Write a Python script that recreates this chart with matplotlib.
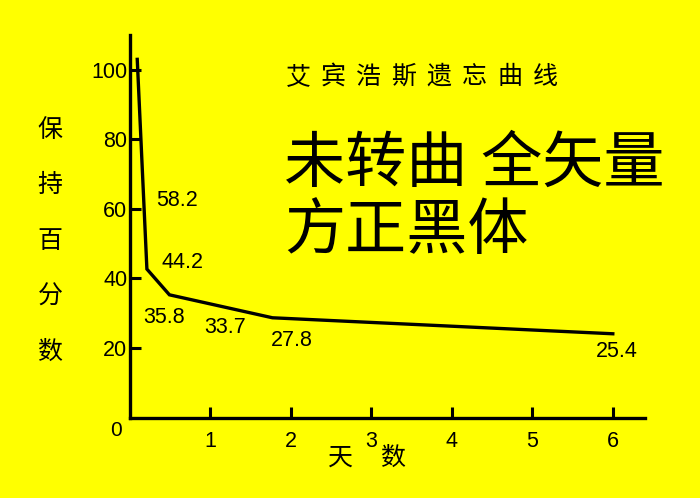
import matplotlib.pyplot as plt

plt.rcParams['font.family'] = ['Liberation Sans', 'Noto Sans CJK SC', 'DejaVu Sans']

# curve as drawn (days, retention %)
days = [0.09, 0.21, 0.49, 1.77, 6.0]
retention = [103, 42.7, 35.3, 28.7, 24.1]

# value labels and where they sit
labels = ['58.2', '44.2', '35.8', '33.7', '27.8', '25.4']
label_x = [0.59, 0.65, 0.42, 1.18, 2.01, 6.05]
label_y = [62.4, 44.5, 28.7, 25.8, 22.3, 18.9]

x_ticks = [1, 2, 3, 4, 5, 6]
y_ticks = [20, 40, 60, 80, 100]

title = '艾宾浩斯遗忘曲线'
big_line1 = '未转曲 全矢量'
big_line2 = '方正黑体'
ylabel = '保持百分数'
xlabel = '天数'

bg = '#ffff00'
cjk = ['Noto Sans CJK SC', 'DejaVu Sans']

fig = plt.figure(figsize=(7, 4.98), dpi=100, facecolor=bg)
ax = fig.add_axes([130 / 700, 80.4 / 498, 515 / 700, 382.6 / 498])
ax.set_facecolor(bg)

ax.plot(days, retention, color='black', lw=2.4, solid_joinstyle='miter', clip_on=False)

for t, x, y in zip(labels, label_x, label_y):
    ax.text(x, y, t, ha='center', va='center', fontsize=15.5)

ax.set_xlim(0, 6.4)
ax.set_ylim(0, 110)
ax.set_xticks(x_ticks)
ax.set_yticks(y_ticks)
ax.tick_params(direction='in', length=8, width=2.2, labelsize=15.5, pad=2)
ax.tick_params(axis='x', pad=10)
for s in ['top', 'right']:
    ax.spines[s].set_visible(False)
for s in ['left', 'bottom']:
    ax.spines[s].set_linewidth(2.4)

fig.text(116 / 700, 1 - 430 / 498, '0', ha='center', va='center', fontsize=15)

# spaced title, one character at a time
for i, ch in enumerate(title):
    fig.text((298 + i * 35.3) / 700, 1 - 77 / 498, ch, ha='center', va='center',
             fontsize=18, family=cjk)

fig.text(284 / 700, 1 - 165 / 498, big_line1, ha='left', va='center',
         fontsize=44, family=cjk)
fig.text(284 / 700, 1 - 232 / 498, big_line2, ha='left', va='center',
         fontsize=44, family=cjk)

for i, ch in enumerate(ylabel):
    fig.text(50 / 700, 1 - (130 + i * 55.5) / 498, ch, ha='center', va='center',
             fontsize=18, family=cjk)

for i, ch in enumerate(xlabel):
    fig.text((340 + i * 53) / 700, 1 - 458 / 498, ch, ha='center', va='center',
             fontsize=18, family=cjk)

fig.savefig('out.png', dpi=100, facecolor=bg)
